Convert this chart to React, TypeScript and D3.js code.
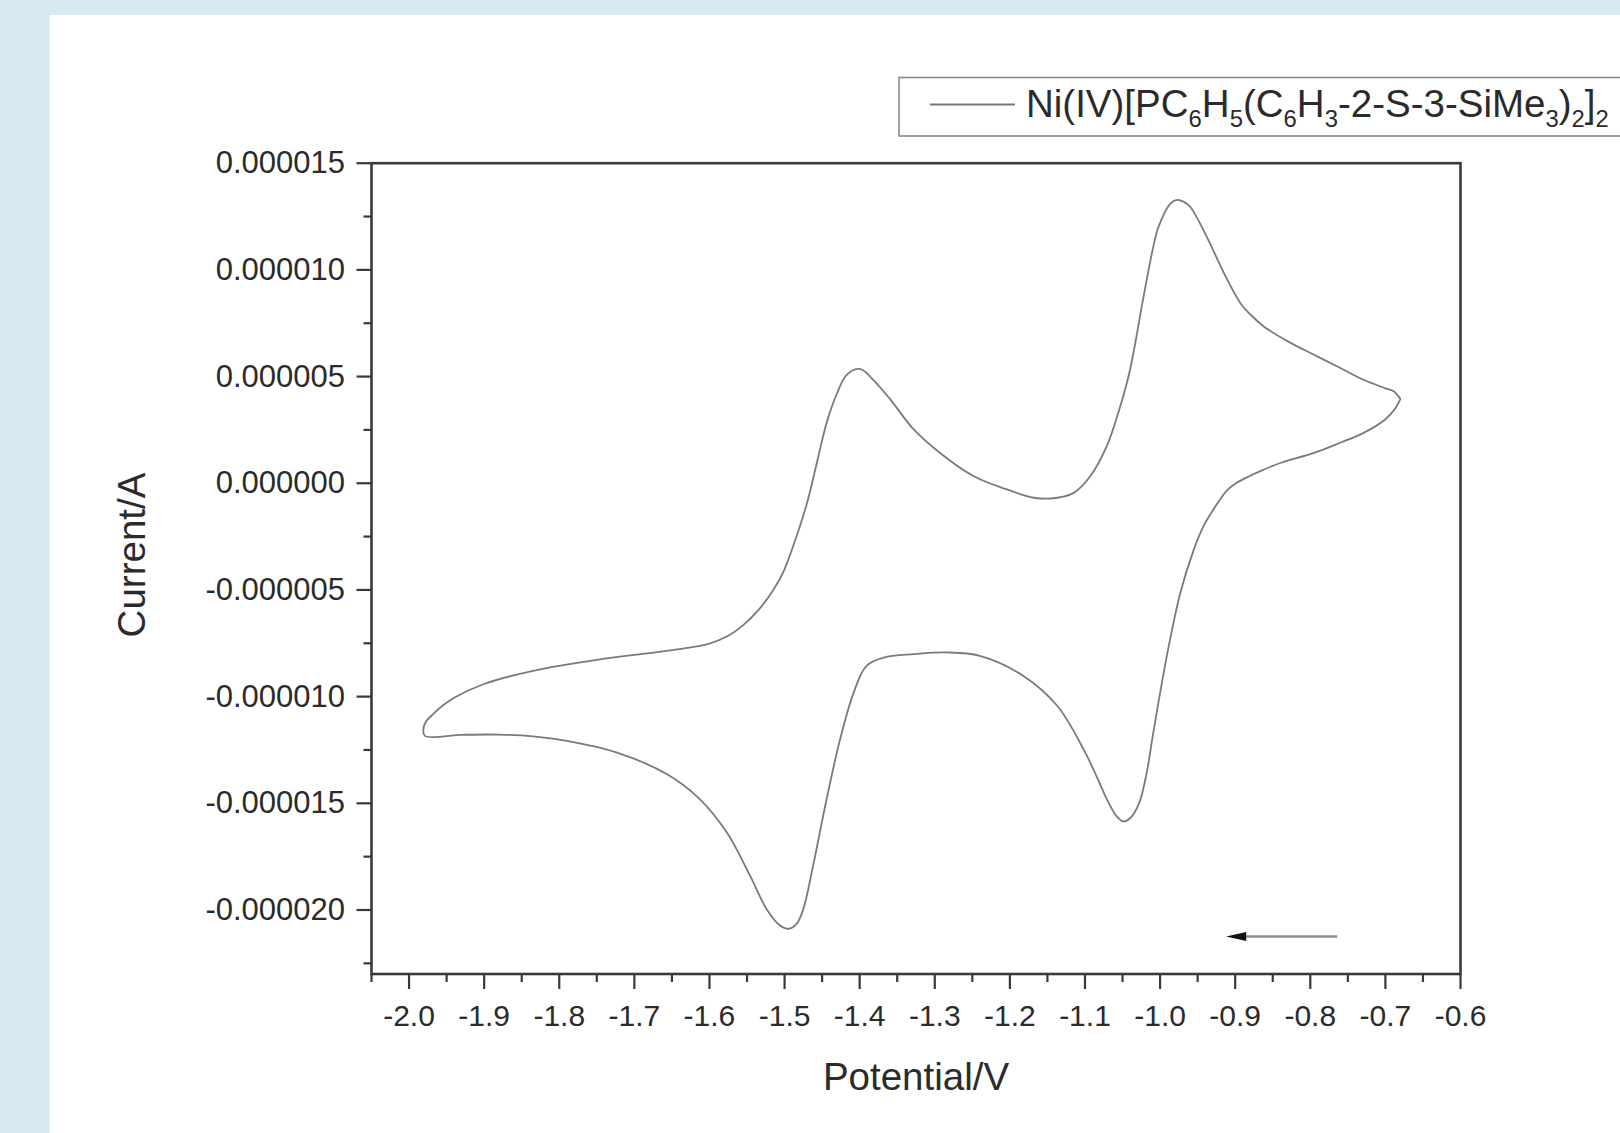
import React from "react";
import * as d3 from "d3";

// Potential (V) along the scan, starting at the right vertex, going negative (lower branch), then back (upper branch)
const scanPotential: number[] = [
  -0.680, -0.686, -0.700, -0.729, -0.760, -0.795, -0.840, -0.862, -0.880, -0.898,
  -0.910, -0.929, -0.942, -0.955, -0.973, -0.991, -1.009, -1.018, -1.028, -1.040,
  -1.049, -1.058, -1.071, -1.085, -1.102, -1.137, -1.182, -1.240, -1.284, -1.328,
  -1.368, -1.391, -1.408, -1.426, -1.444, -1.462, -1.475, -1.484, -1.495, -1.506,
  -1.524, -1.546, -1.577, -1.613, -1.657, -1.724, -1.790, -1.835, -1.879, -1.930,
  -1.979,
  -1.981, -1.978, -1.968, -1.955, -1.940, -1.901, -1.835, -1.746, -1.657, -1.599,
  -1.575, -1.555, -1.535, -1.515, -1.502, -1.484, -1.470, -1.457, -1.444, -1.430,
  -1.417, -1.399, -1.382, -1.359, -1.328, -1.293, -1.248, -1.204, -1.168, -1.137,
  -1.115, -1.093, -1.071, -1.053, -1.040, -1.022, -1.009, -1.002, -0.986, -0.977,
  -0.969, -0.960, -0.938, -0.915, -0.893, -0.878, -0.862, -0.830, -0.795, -0.760,
  -0.729, -0.700, -0.689, -0.680,
];

// Current in microamperes, same order
const scanCurrentMicroA: number[] = [
  3.95, 3.55, 3.00, 2.36, 1.90, 1.42, 0.95, 0.64, 0.35, 0.02,
  -0.30, -1.23, -2.00, -3.10, -5.13, -8.09, -11.68, -13.60, -15.00, -15.70,
  -15.85, -15.60, -14.80, -13.70, -12.46, -10.43, -9.03, -8.09, -7.93, -8.01,
  -8.17, -8.56, -9.81, -11.99, -14.80, -17.92, -19.95, -20.65, -20.88, -20.73,
  -19.95, -18.39, -16.36, -14.80, -13.63, -12.61, -12.07, -11.86, -11.78, -11.79,
  -11.84,
  -11.55, -11.20, -10.82, -10.42, -10.05, -9.42, -8.79, -8.25, -7.86, -7.50,
  -7.15, -6.65, -5.95, -5.00, -4.19, -2.48, -0.91, 0.96, 2.83, 4.23,
  5.09, 5.35, 4.85, 3.92, 2.52, 1.42, 0.33, -0.29, -0.68, -0.68,
  -0.45, 0.33, 1.74, 3.61, 5.32, 8.75, 11.09, 12.03, 13.12, 13.28,
  13.20, 12.96, 11.56, 9.85, 8.44, 7.85, 7.35, 6.65, 6.02, 5.40,
  4.85, 4.45, 4.31, 3.95,
];

const xMajorTicks: number[] = [-2.0, -1.9, -1.8, -1.7, -1.6, -1.5, -1.4, -1.3, -1.2, -1.1, -1.0, -0.9, -0.8, -0.7, -0.6];
const xMinorTicks: number[] = [-2.05, -1.95, -1.85, -1.75, -1.65, -1.55, -1.45, -1.35, -1.25, -1.15, -1.05, -0.95, -0.85, -0.75, -0.65];
const yMajorTicksMicroA: number[] = [15, 10, 5, 0, -5, -10, -15, -20];
const yMinorTicksMicroA: number[] = [12.5, 7.5, 2.5, -2.5, -7.5, -12.5, -17.5, -22.5];

// scan direction arrow: from (start) to (tip), in V and µA
const arrowPotential: number[] = [-0.764, -0.912];
const arrowCurrentMicroA: number[] = [-21.24, -21.24];

const legendParts: [string, boolean][] = [
  ["Ni(IV)[PC", false], ["6", true], ["H", false], ["5", true], ["(C", false], ["6", true],
  ["H", false], ["3", true], ["-2-S-3-SiMe", false], ["3", true], [")", false], ["2", true],
  ["]", false], ["2", true],
];

const xTitle = "Potential/V";
const yTitle = "Current/A";

const W = 1620;
const H = 1133;
const FONT = "'Liberation Sans', Arial, Helvetica, sans-serif";

export default function App() {
  const x = d3.scaleLinear().domain([-2.05, -0.6]).range([371.5, 1460.5]);
  const y = d3.scaleLinear().domain([-23, 15]).range([974, 163.2]);

  const pts: [number, number][] = scanPotential.map((v, i) => [v, scanCurrentMicroA[i]]);
  const line = d3
    .line<[number, number]>()
    .x((d) => x(d[0]))
    .y((d) => y(d[1]))
    .curve(d3.curveCatmullRom.alpha(0.5));
  const pathD = line(pts) || "";

  const axisColor = "#3a3a3a";
  const textColor = "#2b2b2b";
  const [x0, x1] = x.range();
  const [yb, yt] = y.range();

  const ax0 = x(arrowPotential[0]);
  const ax1 = x(arrowPotential[1]);
  const ay = y(arrowCurrentMicroA[0]);

  // legend
  const legFont = 38.5;
  const legendTspans: React.ReactNode[] = [];
  let prevSub = false;
  legendParts.forEach(([t, sub], i) => {
    let dy = 0;
    if (sub && !prevSub) dy = 10;
    if (!sub && prevSub) dy = -10;
    legendTspans.push(
      <tspan key={i} dy={dy} fontSize={sub ? legFont * 0.62 : legFont}>
        {t}
      </tspan>
    );
    prevSub = sub;
  });

  return (
    <svg
      width={W}
      height={H}
      style={{ position: "absolute", left: 0, top: 0, display: "block" }}
      fontFamily={FONT}
    >
      <rect x={0} y={0} width={W} height={H} fill="#d7ebf1" />
      <rect x={50} y={15} width={W - 50} height={H - 15} fill="#ffffff" />

      {/* legend */}
      <rect x={899} y={77.5} width={760} height={58.5} fill="#ffffff" stroke="#8a8a8a" strokeWidth={1.6} />
      <line x1={930} x2={1015} y1={104.5} y2={104.5} stroke="#777" strokeWidth={1.8} />
      <text x={1026} y={117} fill={textColor} fontSize={legFont}>
        {legendTspans}
      </text>

      {/* curve */}
      <path d={pathD} fill="none" stroke="#7a7a7a" strokeWidth={1.8} strokeLinejoin="round" />

      {/* arrow */}
      <line x1={ax0} x2={ax1 + 14} y1={ay} y2={ay} stroke="#8f8f8f" strokeWidth={2.6} />
      <path d={`M${ax1},${ay} L${ax1 + 20},${ay - 4.5} L${ax1 + 20},${ay + 4.5} Z`} fill="#111" />

      {/* frame */}
      <rect x={x0} y={yt} width={x1 - x0} height={yb - yt} fill="none" stroke={axisColor} strokeWidth={2.6} />

      {/* x ticks */}
      {xMajorTicks.map((t) => (
        <g key={"xm" + t}>
          <line x1={x(t)} x2={x(t)} y1={yb} y2={yb + 15} stroke={axisColor} strokeWidth={2.2} />
          <text x={x(t)} y={1026} textAnchor="middle" fontSize={30} fill={textColor}>
            {t.toFixed(1)}
          </text>
        </g>
      ))}
      {xMinorTicks.map((t) => (
        <line key={"xn" + t} x1={x(t)} x2={x(t)} y1={yb} y2={yb + 8} stroke={axisColor} strokeWidth={2.2} />
      ))}

      {/* y ticks */}
      {yMajorTicksMicroA.map((t) => (
        <g key={"ym" + t}>
          <line x1={x0 - 15} x2={x0} y1={y(t)} y2={y(t)} stroke={axisColor} strokeWidth={2.2} />
          <text x={345} y={y(t) + 10} textAnchor="end" fontSize={31} fill={textColor}>
            {(t * 1e-6).toFixed(6)}
          </text>
        </g>
      ))}
      {yMinorTicksMicroA.map((t) => (
        <line key={"yn" + t} x1={x0 - 8} x2={x0} y1={y(t)} y2={y(t)} stroke={axisColor} strokeWidth={2.2} />
      ))}

      {/* axis titles */}
      <text x={(x0 + x1) / 2} y={1090} textAnchor="middle" fontSize={38.5} fill={textColor}>
        {xTitle}
      </text>
      <text
        transform={`translate(145,555) rotate(-90)`}
        textAnchor="middle"
        fontSize={38.5}
        fill={textColor}
      >
        {yTitle}
      </text>
    </svg>
  );
}
